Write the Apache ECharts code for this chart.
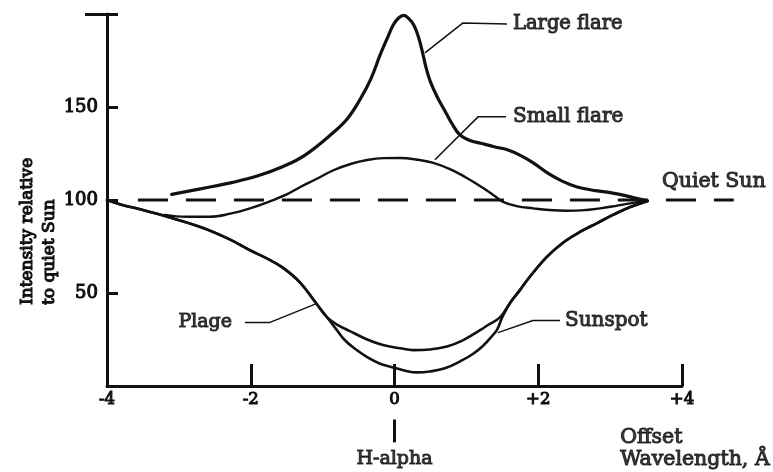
<!DOCTYPE html>
<html><head><meta charset="utf-8">
<script src="https://cdn.jsdelivr.net/npm/echarts@6/dist/echarts.min.js"></script>
<style>html,body{margin:0;padding:0;background:#fff}#c{width:773px;height:472px}</style>
</head><body><div id="c"></div>
<script>
// ---- data ----
const xTickValues = [-4, -2, 0, 2, 4];
const xTickLabels = ['-4', '-2', '0', '+2', '+4'];
const yTickValues = [50, 100, 150];
const yTickLabels = ['50', '100', '150'];

const quietSun = [[-3.57, 100], [4.72, 100]];

const largeFlare = [[-3.1,103],[-2.7,106],[-2.25,109.5],[-1.9,113],[-1.55,118],[-1.25,124],[-0.86,136],[-0.65,144],[-0.48,154],[-0.33,165],[-0.2,178],[-0.1,187],[-0.02,194],[0.06,198],[0.13,199.3],[0.2,197.5],[0.27,194],[0.33,188],[0.38,181],[0.44,171],[0.5,163.5],[0.6,155],[0.7,148],[0.8,141],[0.91,135],[1.05,132],[1.2,130.5],[1.4,128.5],[1.57,127],[1.75,124],[1.93,120],[2.15,114],[2.34,110],[2.54,107],[2.8,105],[3.0,104],[3.2,102.5],[3.35,101],[3.52,99.5]];

const smallFlare = [[-3.2,92],[-2.9,91],[-2.57,91],[-2.3,92.5],[-2.01,95.5],[-1.75,99],[-1.5,103],[-1.31,107],[-1.1,111],[-0.85,116],[-0.6,119.5],[-0.38,121.5],[-0.15,122.5],[0.08,122.6],[0.3,121.8],[0.54,120],[0.78,116.5],[1.0,112],[1.15,108.5],[1.29,105],[1.4,102],[1.51,99],[1.7,96.7],[1.93,95.5],[2.15,94.6],[2.4,94.2],[2.6,94.4],[2.86,95.5],[3.1,97],[3.28,98.2],[3.52,99.5]];

const plage = [[-4,100],[-3.8,97.5],[-3.54,95],[-3.16,91],[-2.7,85.5],[-2.3,79],[-2.01,73],[-1.77,68.5],[-1.55,63.5],[-1.31,55.5],[-1.1,45],[-0.94,37],[-0.8,33],[-0.62,29.5],[-0.38,25],[-0.16,22],[0.08,20.3],[0.26,19.3],[0.49,19.6],[0.73,21.2],[0.95,24.5],[1.19,30],[1.3,32.8],[1.47,37],[1.61,44.8],[1.75,51.8],[1.88,58.6],[2.12,69.4],[2.34,76.9],[2.58,82.8],[2.82,87.6],[3.04,92],[3.28,96.2],[3.52,99.5]];

const sunspot = [[-4,100],[-3.8,97.5],[-3.54,95],[-3.16,91],[-2.7,85.5],[-2.3,79],[-2.01,73],[-1.77,68.5],[-1.55,63.5],[-1.31,55.5],[-1.1,45],[-0.94,37],[-0.82,31],[-0.7,25],[-0.55,20],[-0.38,15.5],[-0.2,12],[-0.02,10],[0.15,8.2],[0.31,7.3],[0.49,7.8],[0.7,9.5],[0.95,14],[1.1,17.5],[1.23,21.5],[1.35,26.5],[1.43,30.5],[1.5,37],[1.61,44.8],[1.75,51.8],[1.88,58.6],[2.12,69.4],[2.34,76.9],[2.58,82.8],[2.82,87.6],[3.04,92],[3.28,96.2],[3.52,99.5]];

const largeFlareLeader = [[0.424,179.1],[0.953,195.2],[1.565,194.6]];
const smallFlareLeader = [[0.563,121.6],[1.162,144.7],[1.551,144.7]];
const plageLeader = [[-1.078,44.4],[-1.732,34.2],[-2.08,34.2]];
const sunspotLeader = [[1.44,28.7],[1.927,35.2],[2.303,35.2]];
const hAlphaMarker = [[0,-18],[0,-30.3]];

const noteTexts = ['Large flare', 'Small flare', 'Quiet Sun', 'Plage', 'Sunspot', 'H-alpha', 'Offset', 'Wavelength, Å'];
const noteAnchors = [[1.565,194.6],[1.551,144.7],[3.72,109.8],[-2.08,34.2],[2.303,35.2],[0,-39.5],[3.14,-27.6],[3.14,-39.5]];
// ---- layout/style ----
const notePlacement = [
  {position:'right', distance:6, size:19.5},
  {position:'right', distance:7, size:20},
  {position:'right', distance:0, size:20.5},
  {position:'left', distance:13, size:19},
  {position:'right', distance:5, size:20},
  {position:'inside', distance:0, size:19},
  {position:'right', distance:0, size:20.5},
  {position:'right', distance:0, size:20.5}
];

const INK = '#111';
const FONT = '"DejaVu Serif", "Liberation Serif", serif';
const TXT = {color:INK, fontFamily:FONT, fontWeight:'normal', textBorderColor:INK, textBorderWidth:1.1};

function curve(name, data, width) {
  return {name, type:'line', data, smooth:0.4, symbol:'none', clip:false,
    lineStyle:{color:INK, width, cap:'round', join:'round'}, silent:true, z:3};
}
function leader(data) {
  return {type:'line', data, smooth:false, symbol:'none', clip:false,
    lineStyle:{color:INK, width:1.5}, silent:true, z:2};
}

const chart = echarts.init(document.getElementById('c'), null, {renderer:'canvas'});
chart.setOption({
  backgroundColor:'#fff',
  animation:false,
  grid:{left:107, right:91, top:14, bottom:86, containLabel:false},
  xAxis:{
    type:'value', min:-4, max:4, interval:2,
    axisLine:{show:true, onZero:false, lineStyle:{color:INK, width:3}},
    axisTick:{show:true, inside:true, length:22, lineStyle:{color:INK, width:3}},
    axisLabel:Object.assign({show:true, margin:5, fontSize:16.5,
      formatter:v => { const i = xTickValues.indexOf(v); return i >= 0 ? xTickLabels[i] : ''; }}, TXT),
    splitLine:{show:false}
  },
  yAxis:[{
    type:'value', min:0, max:200, interval:50,
    axisLine:{show:true, onZero:false, lineStyle:{color:INK, width:3}},
    axisTick:{show:true, inside:true, length:11, lineStyle:{color:INK, width:3}},
    axisLabel:Object.assign({show:true, margin:9, fontSize:18,
      formatter:v => { const i = yTickValues.indexOf(v); return i >= 0 ? yTickLabels[i] : ''; }}, TXT),
    splitLine:{show:false}
  },{
    type:'value', min:0, max:200, position:'left',
    axisLine:{show:false, onZero:false}, axisLabel:{show:false}, splitLine:{show:false},
    axisTick:{show:true, inside:false, length:22, lineStyle:{color:INK, width:3}, customValues:[200]}
  }],
  graphic:[{
    type:'text', x:17, y:305, rotation:Math.PI/2,
    style:{text:'Intensity relative\nto quiet Sun', font:'17px ' + FONT, fill:INK,
      stroke:INK, lineWidth:1.1,
      textAlign:'left', textVerticalAlign:'top', lineHeight:22}
  }],
  series:[
    {name:'Quiet Sun', type:'custom', data:quietSun, clip:false, silent:true, z:2,
      encode:{x:0, y:1},
      renderItem:(params, api) => {
        if (params.dataIndex !== 0) return null;
        return {type:'polyline', shape:{points:quietSun.map(p => api.coord(p))},
          style:{stroke:INK, lineWidth:3, lineDash:[30,18], fill:null}};
      }},
    curve('Large flare', largeFlare, 3.2),
    curve('Small flare', smallFlare, 2.4),
    curve('Plage', plage, 2.6),
    curve('Sunspot', sunspot, 2.6),
    leader(largeFlareLeader),
    leader(smallFlareLeader),
    leader(plageLeader),
    leader(sunspotLeader),
    {type:'line', data:hAlphaMarker, symbol:'none', clip:false,
      lineStyle:{color:INK, width:3}, silent:true},
    {type:'scatter', symbolSize:0, clip:false, silent:true, z:5,
      data: noteTexts.map((t, i) => ({
        value: noteAnchors[i],
        label:Object.assign({show:true, formatter:t, position:notePlacement[i].position,
          distance:notePlacement[i].distance, fontSize:notePlacement[i].size}, TXT)
      }))}
  ]
});
</script></body></html>
